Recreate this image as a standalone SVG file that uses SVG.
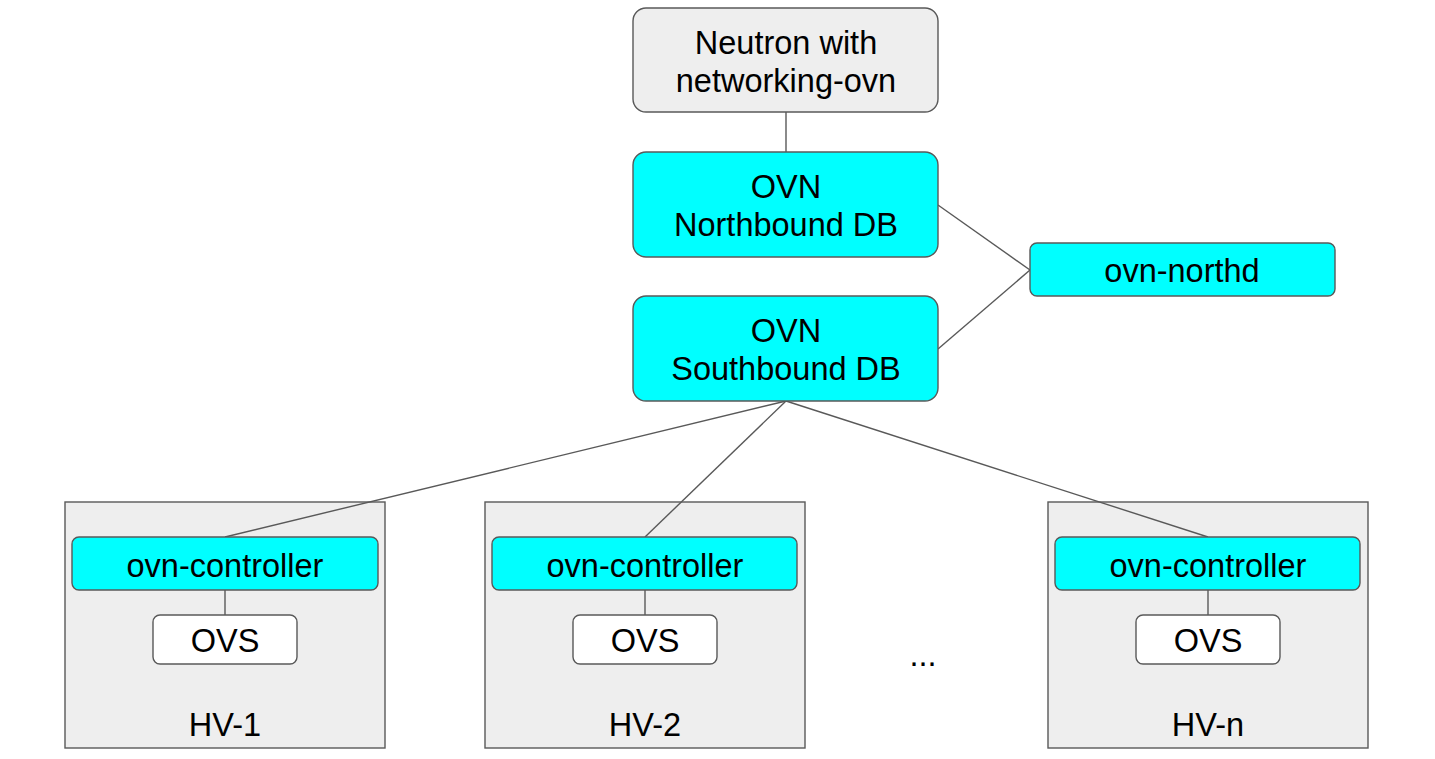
<svg xmlns="http://www.w3.org/2000/svg" width="1435" height="759" viewBox="0 0 1435 759">
<style>
.t{font-family:"Liberation Sans",Arial,sans-serif;font-size:32.5px;fill:#000;text-anchor:middle}
.c{fill:#00ffff;stroke:#595959;stroke-width:1.4}
.g{fill:#eeeeee;stroke:#595959;stroke-width:1.4}
.w{fill:#ffffff;stroke:#595959;stroke-width:1.4}
.l{stroke:#595959;stroke-width:1.4;fill:none}
</style>
<rect width="1435" height="759" fill="#fff"/>
<g id="hv1"><rect class="g" x="65" y="502" width="320" height="246"/><text class="t" x="225" y="736">HV-1</text></g>
<g id="hv2"><rect class="g" x="485" y="502" width="320" height="246"/><text class="t" x="645" y="736">HV-2</text></g>
<g id="hvn"><rect class="g" x="1048" y="502" width="320" height="246"/><text class="t" x="1208" y="736">HV-n</text></g>
<g id="connectors">
<line class="l" x1="786" y1="112" x2="786" y2="152"/>
<line class="l" x1="938" y1="205" x2="1030" y2="270"/>
<line class="l" x1="938" y1="349" x2="1030" y2="270"/>
<line class="l" x1="786" y1="401" x2="225" y2="537"/>
<line class="l" x1="786" y1="401" x2="645" y2="537"/>
<line class="l" x1="786" y1="401" x2="1208" y2="537"/>
<line class="l" x1="225" y1="590" x2="225" y2="615"/>
<line class="l" x1="645" y1="590" x2="645" y2="615"/>
<line class="l" x1="1208" y1="590" x2="1208" y2="615"/>
</g>
<g id="neutron"><rect class="g" x="633" y="8" width="305" height="104" rx="13"/><text class="t" x="786" y="54">Neutron with</text><text class="t" x="786" y="92">networking-ovn</text></g>
<g id="nbdb"><rect class="c" x="633" y="152" width="305" height="105" rx="13"/><text class="t" x="786" y="198">OVN</text><text class="t" x="786" y="236">Northbound DB</text></g>
<g id="sbdb"><rect class="c" x="633" y="296" width="305" height="105" rx="13"/><text class="t" x="786" y="342">OVN</text><text class="t" x="786" y="380">Southbound DB</text></g>
<g id="northd"><rect class="c" x="1030" y="243" width="305" height="53" rx="7"/><text class="t" x="1182" y="282">ovn-northd</text></g>
<g id="ctl1"><rect class="c" x="72" y="537" width="306" height="53" rx="7"/><text class="t" x="225" y="577">ovn-controller</text></g>
<g id="ovs1"><rect class="w" x="153" y="615" width="144" height="49" rx="7"/><text class="t" x="225" y="652">OVS</text></g>
<g id="ctl2"><rect class="c" x="492" y="537" width="305" height="53" rx="7"/><text class="t" x="645" y="577">ovn-controller</text></g>
<g id="ovs2"><rect class="w" x="573" y="615" width="144" height="49" rx="7"/><text class="t" x="645" y="652">OVS</text></g>
<g id="ctln"><rect class="c" x="1055" y="537" width="305" height="53" rx="7"/><text class="t" x="1208" y="577">ovn-controller</text></g>
<g id="ovsn"><rect class="w" x="1136" y="615" width="144" height="49" rx="7"/><text class="t" x="1208" y="652">OVS</text></g>
<g id="dots"><text class="t" x="923" y="666">...</text></g>
</svg>
